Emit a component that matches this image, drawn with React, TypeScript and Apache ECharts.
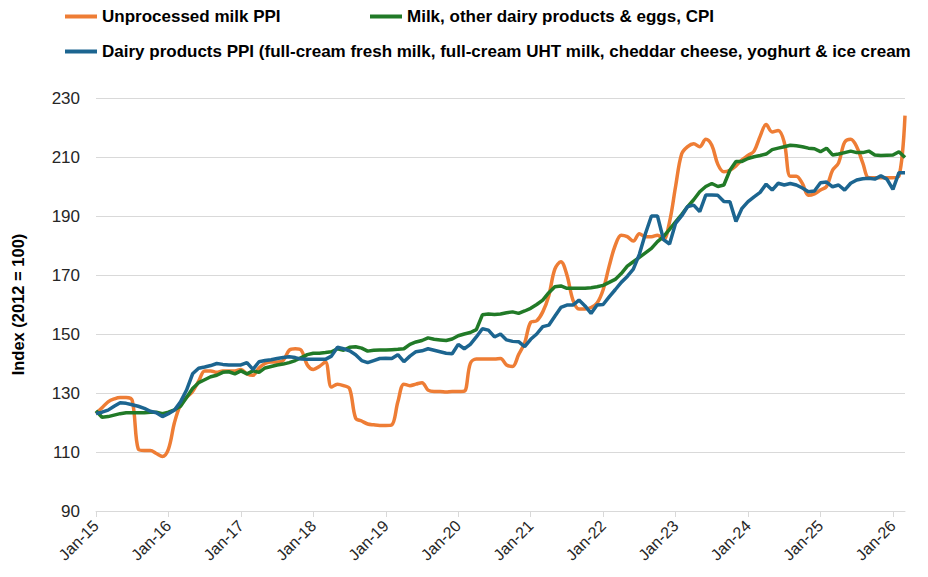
import React, { useEffect, useRef } from "react";
import * as echarts from "echarts";

const monthNames = ["Jan", "Feb", "Mar", "Apr", "May", "Jun", "Jul", "Aug", "Sep", "Oct", "Nov", "Dec"];
const startYear = 2015;
const monthCount = 135;

const unprocessedMilkPPI = [
  123, 125, 127, 128, 128.5, 128.5, 127.5, 111, 110.5, 110.5, 109.5, 108.5,
  111, 120, 126, 128.5, 130.5, 134, 137.5, 137.5, 137, 137.5, 137.5, 137.5,
  138, 136.5, 136, 138.5, 140, 140.5, 140.5, 141, 144.5, 145, 144.5, 139.5,
  138, 139, 140.5, 132, 133, 132.5, 131.5, 121.5, 120.5, 119.5, 119.2, 119,
  119, 119.2, 127, 133, 132.5, 133, 133.5, 131, 130.5, 130.5, 130.3, 130.5,
  130.5, 130.6, 140, 141.5, 141.5, 141.5, 141.5, 141.7, 139.5, 139, 143, 147,
  154, 154.5, 157.5, 163, 172, 174.5, 170, 161.5, 158.5, 158.5, 159, 160.5,
  165, 173, 180, 183.5, 183, 181.5, 184, 183, 183, 183.5, 182, 188,
  200, 211, 213.5, 214.5, 213.5, 216, 214, 207.5, 205, 205.5, 207, 209,
  210.5, 212, 217, 221, 218.5, 219, 215, 203.5, 203.5, 201, 197, 197.5,
  198.8, 200, 205.5, 208, 215, 216, 213.5, 208, 203, 203, 203, 203,
  203, 203.5, 224,
];

const milkDairyEggsCPI = [
  124, 121.8, 122, 122.5, 123, 123.3, 123.3, 123.3, 123.3, 123.5, 123.5, 123,
  123.5, 124.3, 125.5, 128.5, 131.5, 133.5, 134.5, 135.5, 136, 137, 137.2, 136.5,
  137.5, 136.5, 137.5, 137, 138.5, 139, 139.5, 139.8, 140.3, 141, 142, 143,
  143.5, 143.5, 143.7, 144, 145, 144.5, 145.5, 145.7, 145.2, 144.2, 144.5, 144.6,
  144.6, 144.7, 144.8, 145, 146.5, 147.3, 147.8, 148.7, 148.2, 148, 147.8, 148.3,
  149.4, 150, 150.5, 151.5, 156.5, 156.8, 156.6, 156.8, 157.2, 157.5, 157, 157.8,
  158.7, 160, 161.5, 164, 166, 166.3, 165.5, 165.5, 165.5, 165.5, 165.7, 166,
  166.5, 167.5, 168.5, 170.5, 173, 174.5, 176, 177.5, 179, 181.3, 183, 185.5,
  188, 190.5, 193.2, 195.5, 198.2, 200, 201, 200, 200.5, 205.5, 208.5, 208.5,
  209.5, 210.1, 210.5, 211, 212.5, 213, 213.5, 214, 213.8, 213.5, 213, 212.8,
  211.8, 213, 210.7, 211, 211.5, 212, 211.5, 211.5, 212, 210.7, 210.5, 210.6,
  210.7, 211.8, 209.8,
];

const dairyProductsPPI = [
  123, 123.5, 124.2, 125.5, 126.7, 126.5, 126, 125.5, 124.8, 123.8, 123.3, 122,
  123, 124.2, 127, 131, 136.5, 138.4, 138.8, 139.3, 140, 139.7, 139.5, 139.5,
  139.5, 140.3, 138, 140.6, 141, 141.3, 141.7, 142, 142.3, 142, 141.5, 141.4,
  141.4, 141.4, 141.4, 142.5, 145.5, 145, 144.3, 143, 141, 140.3, 141, 141.7,
  141.8, 141.7, 143, 140.6, 142.5, 144, 144.3, 145, 144.5, 144, 143.5, 143.3,
  146.5, 145, 146.5, 149, 151.8, 151.3, 149, 150, 148, 147.5, 147.4, 145.7,
  148.2, 150, 152.5, 153, 156, 159, 159.8, 159.8, 161.5, 159.5, 157, 159.8,
  160, 162.6, 165, 167.5, 169.5, 172, 177, 184, 190, 190, 182, 180.5,
  187.5, 190, 193.2, 193.7, 191.5, 197.1, 197.1, 197, 194.9, 194.8, 188.1, 192.6,
  194.9, 196.5, 198, 200.8, 198.8, 201.1, 200.5, 201, 200.5, 199.5, 198.2, 198.5,
  201.3, 201.5, 199.9, 200.5, 198.8, 201.1, 202.2, 202.6, 202.8, 202.5, 203.6, 202.5,
  199, 204.7, 204.7,
];

const seriesNames = [
  "Unprocessed milk PPI",
  "Milk, other dairy products & eggs, CPI",
  "Dairy products PPI (full-cream fresh milk, full-cream UHT milk, cheddar cheese, yoghurt & ice cream",
];
const colors = ["#EE7D35", "#217A27", "#1C6590"];

const yMin = 90;
const yMax = 230;
const yStep = 20;

const categories: string[] = [];
for (let i = 0; i < monthCount; i++) {
  const y = startYear + Math.floor(i / 12);
  categories.push(`${monthNames[i % 12]}-${String(y).slice(2)}`);
}

const FONT = "'Liberation Sans', Arial, sans-serif";

export default function App() {
  const ref = useRef<HTMLDivElement>(null);
  useEffect(() => {
    if (!ref.current) return;
    const chart = echarts.init(ref.current, null, { renderer: "svg" });
    const legendText = { fontFamily: FONT, fontSize: 17, fontWeight: "bold" as const, color: "#000" };
    const legendBase = {
      orient: "horizontal" as const,
      icon: "rect",
      itemWidth: 32,
      itemHeight: 4,
      itemGap: 6,
      itemStyle: { borderWidth: 0 },
      textStyle: legendText,
      padding: 0,
    };
    chart.setOption({
      animation: false,
      backgroundColor: "#fff",
      legend: [
        { ...legendBase, left: 65, top: 8, data: [seriesNames[0]] },
        { ...legendBase, left: 370, top: 8, data: [seriesNames[1]] },
        { ...legendBase, left: 65, top: 43, data: [seriesNames[2]] },
      ],
      grid: { left: 96, right: 23, top: 98, bottom: 66, containLabel: false },
      xAxis: {
        type: "category",
        data: categories,
        boundaryGap: false,
        axisLine: { lineStyle: { color: "#D9D9D9", width: 1 } },
        axisTick: { show: true, interval: 11, length: 6, lineStyle: { color: "#D9D9D9" } },
        axisLabel: {
          interval: 11,
          rotate: 45,
          fontFamily: FONT,
          fontSize: 16,
          color: "#262626",
          margin: 12,
        },
        splitLine: { show: false },
      },
      yAxis: {
        type: "value",
        min: yMin,
        max: yMax,
        interval: yStep,
        name: "Index (2012 = 100)",
        nameLocation: "middle",
        nameGap: 70,
        nameTextStyle: { fontFamily: FONT, fontSize: 16.5, fontWeight: "bold", color: "#000" },
        axisLine: { show: false },
        axisTick: { show: false },
        axisLabel: { fontFamily: FONT, fontSize: 17, color: "#262626", margin: 16 },
        splitLine: { lineStyle: { color: "#D9D9D9", width: 1 } },
      },
      series: [
        {
          name: seriesNames[0],
          type: "line",
          data: unprocessedMilkPPI,
          smooth: 0.35,
          showSymbol: false,
          lineStyle: { color: colors[0], width: 3.5 },
          itemStyle: { color: colors[0] },
        },
        {
          name: seriesNames[1],
          type: "line",
          data: milkDairyEggsCPI,
          showSymbol: false,
          lineStyle: { color: colors[1], width: 3.5 },
          itemStyle: { color: colors[1] },
        },
        {
          name: seriesNames[2],
          type: "line",
          data: dairyProductsPPI,
          showSymbol: false,
          lineStyle: { color: colors[2], width: 3.5 },
          itemStyle: { color: colors[2] },
        },
      ],
    });
    return () => chart.dispose();
  }, []);
  return <div ref={ref} style={{ width: 928, height: 577, margin: -8 }} />;
}
